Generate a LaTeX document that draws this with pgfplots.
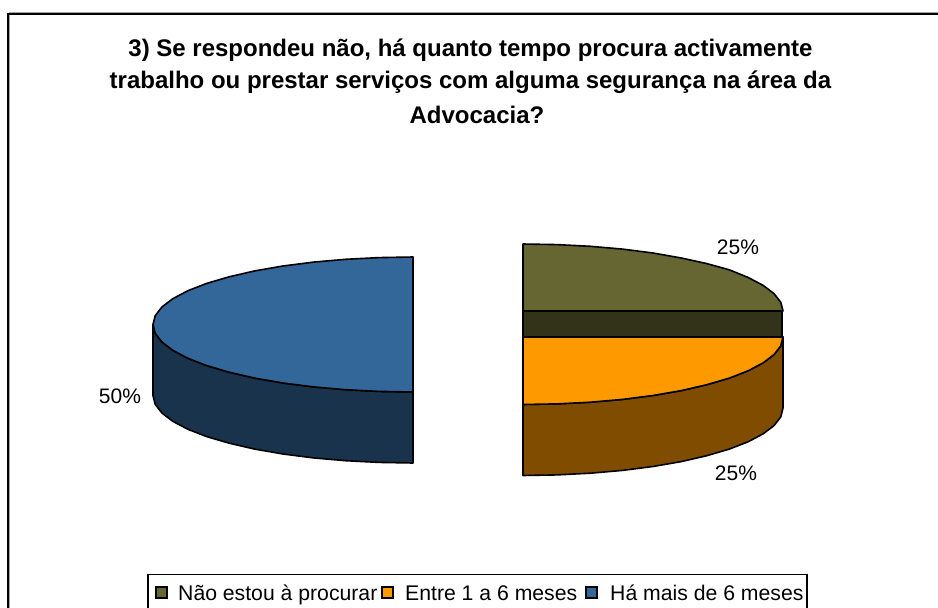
\documentclass[border=0pt]{standalone}
\usepackage{pgfplots}
\pgfplotsset{compat=1.18}
\usepackage{fontspec}
\setmainfont{Liberation Sans}
\definecolor{olv}{HTML}{666633}
\definecolor{olvd}{HTML}{333319}
\definecolor{org}{HTML}{FF9900}
\definecolor{orgd}{HTML}{804D00}
\definecolor{blu}{HTML}{336699}
\definecolor{blud}{HTML}{1A334D}
\begin{document}
\begin{tikzpicture}
\path[use as bounding box] (0,0) rectangle (938pt,608pt);
\begin{axis}[
  scale only axis, width=938pt, height=608pt,
  xmin=0, xmax=938, ymin=0, ymax=608, y dir=reverse,
  hide axis, clip=true, anchor=south west, at={(0,0)},
]
% chart frame (open on the right and at the bottom, as cropped)
\draw[gray!70, line width=1pt] (axis cs:9.5,608) -- (axis cs:9.5,12.5) -- (axis cs:938,12.5);
\draw[black, line width=1.6pt] (axis cs:8.2,608) -- (axis cs:8.2,14) -- (axis cs:938,14);

% 50% slice: side
\addplot[fill=blud, draw=black, line width=1.6pt, line join=round] coordinates {
(153,324.5) (155.2,333.3) (161.9,342) (172.8,350.3) (187.8,358.25) (206.7,365.6) (229.2,372.2) (254.7,378.1) (283,383) (313.5,386.9) (345.7,389.7) (379.1,391.4) (413,392)
(413,463) (379.1,462.4) (345.7,460.7) (313.5,457.9) (283,454) (254.7,449.1) (229.2,443.2) (206.7,436.6) (187.8,429.25) (172.8,421.3) (161.9,413) (155.2,404.3) (153,395.5)
} --cycle;
% 50% slice: top
\addplot[fill=blu, draw=black, line width=1.6pt, line join=round] coordinates {
(413,257) (379.1,257.6) (345.7,259.3) (313.5,262.1) (283,266) (254.7,270.9) (229.2,276.8) (206.7,283.4) (187.8,290.75) (172.8,298.7) (161.9,307) (155.2,315.7) (153,324.5)
(155.2,333.3) (161.9,342) (172.8,350.3) (187.8,358.25) (206.7,365.6) (229.2,372.2) (254.7,378.1) (283,383) (313.5,386.9) (345.7,389.7) (379.1,391.4) (413,392)
} --cycle;

% olive slice: cut face and top
\addplot[fill=olvd, draw=black, line width=1.6pt] coordinates {(523,311) (782,311) (782,337) (523,337)} --cycle;
\addplot[fill=olv, draw=black, line width=1.6pt, line join=round] coordinates {
(523,244) (556.9,244.6) (590.3,246.3) (622.5,249.1) (653,253) (681.3,258) (706.8,263.6) (729.3,269.8) (748.2,277.5) (763.2,285.4) (774.1,293.7) (780.8,302.3) (783,311) (523,311)
} --cycle;

% orange slice: side and top
\addplot[fill=orgd, draw=black, line width=1.6pt, line join=round] coordinates {
(783,337) (780.8,345.8) (774.1,354.5) (763.2,362.8) (748.2,370.75) (729.3,378.1) (706.8,384.7) (681.3,390.6) (653,395.5) (622.5,399.4) (590.3,402.2) (556.9,403.9) (523,404.5)
(523,475.5) (556.9,474.9) (590.3,473.2) (622.5,470.4) (653,466.5) (681.3,461.6) (706.8,455.7) (729.3,449.1) (748.2,441.75) (763.2,433.8) (774.1,425.5) (780.8,416.8) (783,408)
} --cycle;
\addplot[fill=org, draw=black, line width=1.6pt, line join=round] coordinates {
(523,337) (783,337) (780.8,345.8) (774.1,354.5) (763.2,362.8) (748.2,370.75) (729.3,378.1) (706.8,384.7) (681.3,390.6) (653,395.5) (622.5,399.4) (590.3,402.2) (556.9,403.9) (523,404.5)
} --cycle;

% data labels
\node[font=\fontsize{21}{24}\selectfont] at (axis cs:738,247) {25\%};
\node[font=\fontsize{21}{24}\selectfont] at (axis cs:736,473) {25\%};
\node[font=\fontsize{21}{24}\selectfont] at (axis cs:120,396) {50\%};

% title
\node[font=\fontsize{24}{24}\selectfont\bfseries] at (axis cs:470.5,50) {3) Se respondeu não, há quanto tempo procura activamente};
\node[font=\fontsize{24}{24}\selectfont\bfseries] at (axis cs:470.5,82.5) {trabalho ou prestar serviços com alguma segurança na área da};
\node[font=\fontsize{24}{24}\selectfont\bfseries] at (axis cs:477,115) {Advocacia?};

% legend
\draw[black, line width=1.1pt] (axis cs:148,612) -- (axis cs:148,574.5) -- (axis cs:807,574.5) -- (axis cs:807,612);
\draw[fill=olv, line width=1.6pt] (axis cs:156,587) rectangle (axis cs:167,598);
\draw[fill=org, line width=1.6pt] (axis cs:382,587) rectangle (axis cs:393,598);
\draw[fill=blu, line width=1.6pt] (axis cs:586,587) rectangle (axis cs:597,598);
\node[anchor=base west, inner sep=0pt, font=\fontsize{21.2}{24}\selectfont] at (axis cs:178,600) {Não estou à procurar};
\node[anchor=base west, inner sep=0pt, font=\fontsize{21.2}{24}\selectfont] at (axis cs:405,600) {Entre 1 a 6 meses};
\node[anchor=base west, inner sep=0pt, font=\fontsize{21.2}{24}\selectfont] at (axis cs:610,600) {Há mais de 6 meses};
\end{axis}
\end{tikzpicture}
\end{document}
